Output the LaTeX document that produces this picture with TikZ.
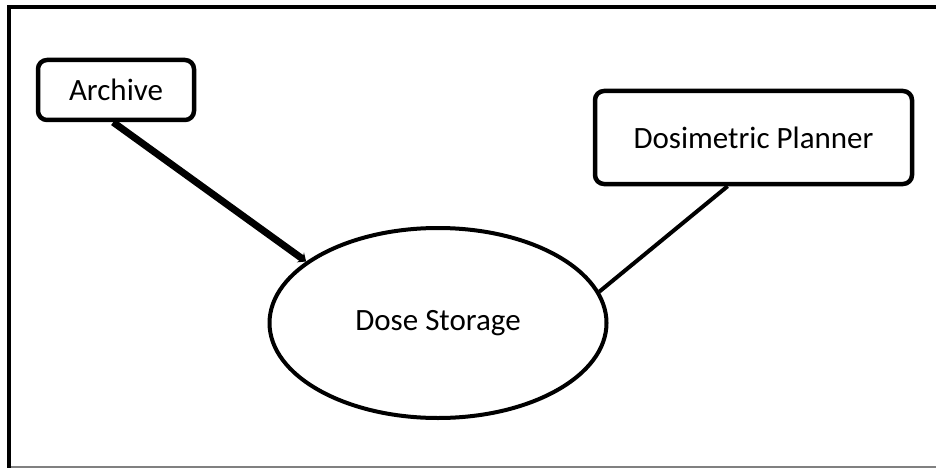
\documentclass[tikz,border=0pt]{standalone}
\usepackage{fontspec}
\setmainfont{Carlito}
\usetikzlibrary{arrows.meta,shapes.geometric}
\begin{document}
\begin{tikzpicture}[x=1pt, y=-1pt, box node/.style={rectangle, rounded corners=9pt, draw, line width=4.5pt, inner sep=0pt}, store node/.style={ellipse, draw, line width=4pt, inner sep=0pt}]
        \tikzstyle{every node}=[font=\fontsize{31}{37}\selectfont]
        \useasboundingbox (0,0) rectangle (936,468);

          % frame
          \draw[line width=4pt] (9,468) -- (9,7) -- (936,7);
          \draw[gray, line width=1.5pt] (11,467.2) -- (936,467.2);

          \node[box node, minimum width=156pt, minimum height=60pt] (1) at (116,90) {Archive};
          \node[box node, minimum width=317pt, minimum height=93pt] (2) at (753.5,137.5) {Dosimetric Planner};
          \node[store node, minimum width=337pt, minimum height=190pt] (3) at (438,323) {Dose Storage};

          \path
            (1.265) edge [line width=7pt, -{Stealth[length=7pt, width=12pt]}] (3.155)
            (2.242) edge [line width=4pt] (3.11);

        \end{tikzpicture}
\end{document}
